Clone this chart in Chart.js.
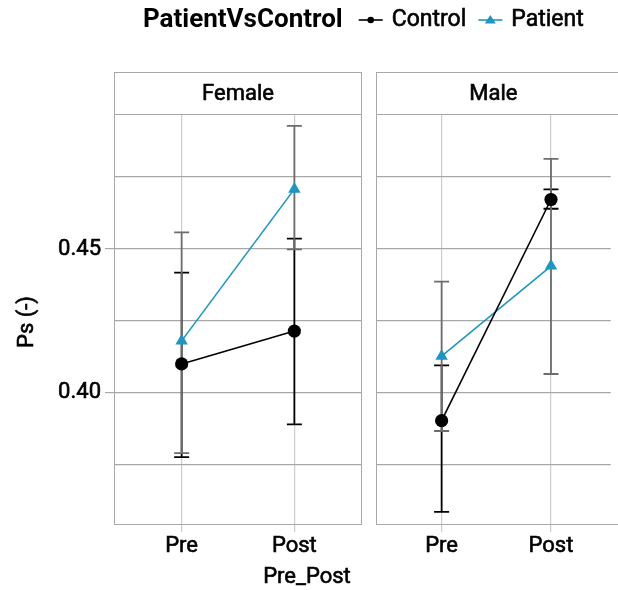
<!DOCTYPE html>
<html>
<head>
<meta charset="utf-8">
<script src="https://cdn.jsdelivr.net/npm/chart.js@4.4.1/dist/chart.umd.min.js"></script>
<style>
  body { margin: 0; background: #fff; }
  #wrap { position: relative; width: 618px; height: 590px; overflow: hidden; }
  #wrap canvas { position: absolute; top: 0; }
</style>
</head>
<body>
<div id="wrap">
  <canvas id="female" width="618" height="590" style="left:0"></canvas>
  <canvas id="male" width="250" height="590" style="left:368px"></canvas>
</div>
<script>
// dados (média e intervalo de cada grupo)
var categories = ["Pre", "Post"];
var panels = ["Female", "Male"];
var groups = ["Control", "Patient"];

var controlFemale = [0.4101, 0.4215];
var controlFemaleLow = [0.3777, 0.3891];
var controlFemaleHigh = [0.4418, 0.4536];
var patientFemale = [0.4181, 0.4708];
var patientFemaleLow = [0.3791, 0.4499];
var patientFemaleHigh = [0.4558, 0.4928];

var controlMale = [0.3904, 0.4672];
var controlMaleLow = [0.3587, 0.4640];
var controlMaleHigh = [0.4096, 0.4707];
var patientMale = [0.4128, 0.4441];
var patientMaleLow = [0.3868, 0.4066];
var patientMaleHigh = [0.4387, 0.4813];

var yBreaks = [0.40, 0.45];
var yLabels = ["0.40", "0.45"];
var yMinorBreaks = [0.375, 0.425, 0.475];

var FONT = "Roboto";
var BLUE = "#1f95c0";
var ERR_GRAY = "#6c6c6c";
var GRID_H = "#a8a8a8";
var GRID_V = "#cccccc";
var BORDER = "#a8a8a8";
var TEXT_STROKE = 0.6;

function toPoints(values) {
    return values.map(function (v, i) { return { x: i + 1, y: v }; });
}

// texto um pouco mais grosso (o Roboto Medium não está instalado)
function boldText(ctx, text, x, y) {
    ctx.lineWidth = TEXT_STROKE;
    ctx.strokeStyle = ctx.fillStyle;
    ctx.fillText(text, x, y);
    ctx.strokeText(text, x, y);
}

// barras de erro, borda do painel e faixa com o nome do painel
var facetPlugin = {
    id: 'facet',
    beforeDatasetsDraw: function (chart) {
        var ctx = chart.ctx;
        var yScale = chart.scales.y;
        chart.data.datasets.forEach(function (ds, di) {
            var meta = chart.getDatasetMeta(di);
            ctx.save();
            ctx.strokeStyle = ds.errColor;
            ctx.lineWidth = 1.8;
            meta.data.forEach(function (pt, i) {
                var x = pt.x;
                var y1 = yScale.getPixelForValue(ds.errLow[i]);
                var y2 = yScale.getPixelForValue(ds.errHigh[i]);
                ctx.beginPath();
                ctx.moveTo(x, y1); ctx.lineTo(x, y2);
                ctx.moveTo(x - 7.5, y1); ctx.lineTo(x + 7.5, y1);
                ctx.moveTo(x - 7.5, y2); ctx.lineTo(x + 7.5, y2);
                ctx.stroke();
            });
            ctx.restore();
        });
    },
    afterDraw: function (chart) {
        var opts = chart.options.plugins.facet;
        var ctx = chart.ctx;
        var a = chart.chartArea;
        var right = opts.openRight ? a.right + 10 : a.right;
        ctx.save();
        ctx.strokeStyle = BORDER;
        ctx.lineWidth = 1;
        ctx.strokeRect(Math.round(a.left) + 0.5, Math.round(a.top) + 0.5,
            Math.round(right - a.left) - 1, Math.round(a.bottom - a.top));
        // faixa
        var stripTop = 72.5;
        ctx.fillStyle = '#ffffff';
        ctx.fillRect(a.left, stripTop, right - a.left, a.top - stripTop);
        ctx.strokeRect(Math.round(a.left) + 0.5, stripTop,
            Math.round(right - a.left) - 1, Math.round(a.top) + 0.5 - stripTop);
        ctx.fillStyle = '#000';
        ctx.font = '22px ' + FONT;
        ctx.textAlign = 'center';
        ctx.textBaseline = 'middle';
        boldText(ctx, opts.label, (a.left + a.right) / 2, (stripTop + a.top) / 2 + 1);
        ctx.restore();
    }
};

// títulos dos eixos e legenda (só no primeiro gráfico)
var titlesPlugin = {
    id: 'titles',
    afterDraw: function (chart) {
        var ctx = chart.ctx;
        ctx.save();
        ctx.fillStyle = '#000';
        ctx.textBaseline = 'middle';
        ctx.textAlign = 'center';
        ctx.font = '22px ' + FONT;
        boldText(ctx, 'Pre_Post', 307, 577);
        ctx.save();
        ctx.translate(27, 322);
        ctx.rotate(-Math.PI / 2);
        boldText(ctx, 'Ps (-)', 0, 0);
        ctx.restore();

        // legenda
        var y = 20;
        var x = 143;
        ctx.textAlign = 'left';
        ctx.font = 'bold 26px ' + FONT;
        ctx.fillText('PatientVsControl', x, y);
        x += ctx.measureText('PatientVsControl').width + 16;
        ctx.font = '23px ' + FONT;
        var colors = ['#000000', BLUE];
        groups.forEach(function (g, i) {
            ctx.strokeStyle = colors[i];
            ctx.fillStyle = colors[i];
            ctx.lineWidth = 1.6;
            ctx.beginPath();
            ctx.moveTo(x, y); ctx.lineTo(x + 24, y);
            ctx.stroke();
            var cx = x + 12;
            ctx.beginPath();
            if (i === 0) {
                ctx.arc(cx, y, 3.3, 0, Math.PI * 2);
            } else {
                ctx.moveTo(cx, y - 5); ctx.lineTo(cx + 5.5, y + 3.5); ctx.lineTo(cx - 5.5, y + 3.5);
                ctx.closePath();
            }
            ctx.fill();
            x += 24 + 9;
            ctx.fillStyle = '#000';
            boldText(ctx, g, x, y);
            x += ctx.measureText(g).width + 12;
        });
        ctx.restore();
    }
};

function buildChart(canvasId, panel, control, cLow, cHigh, patient, pLow, pHigh, first) {
    var xMax = first ? 2.6 : 0.4 + 2.2 * 242 / 248;
    var tickFont = { family: FONT, size: 22 };
    return new Chart(document.getElementById(canvasId), {
        type: 'scatter',
        data: {
            datasets: [{
                label: groups[0],
                data: toPoints(control),
                errLow: cLow, errHigh: cHigh, errColor: '#000000',
                showLine: true,
                borderColor: '#000000',
                backgroundColor: '#000000',
                borderWidth: 1.6,
                pointStyle: 'circle',
                pointRadius: 6.6,
                pointBorderWidth: 0
            }, {
                label: groups[1],
                data: toPoints(patient),
                errLow: pLow, errHigh: pHigh, errColor: ERR_GRAY,
                showLine: true,
                borderColor: BLUE,
                backgroundColor: BLUE,
                borderWidth: 1.6,
                pointStyle: 'triangle',
                pointRadius: 7.2,
                pointBorderWidth: 0
            }]
        },
        options: {
            responsive: false,
            animation: false,
            layout: {
                padding: first ? { left: 0, top: 114, right: 256, bottom: 0 }
                               : { left: 8, top: 114, right: 0, bottom: 0 }
            },
            plugins: {
                legend: { display: false },
                tooltip: { enabled: false },
                facet: { label: panel, openRight: !first }
            },
            scales: {
                x: {
                    type: 'linear',
                    min: 0.4,
                    max: xMax,
                    afterBuildTicks: function (s) {
                        s.ticks = categories.map(function (c, i) { return { value: i + 1 }; });
                    },
                    afterFit: function (s) { s.height = 66; },
                    ticks: {
                        padding: 1,
                        color: '#000',
                        textStrokeColor: '#000',
                        textStrokeWidth: TEXT_STROKE,
                        font: tickFont,
                        callback: function (v) { return categories[v - 1]; }
                    },
                    grid: { color: GRID_V, lineWidth: 1.2, tickLength: 8, tickColor: GRID_V },
                    border: { display: false }
                },
                y: {
                    min: 0.3545,
                    max: 0.4969,
                    afterBuildTicks: function (s) {
                        s.ticks = yMinorBreaks.concat(yBreaks).sort().map(function (v) { return { value: v }; });
                    },
                    afterFit: function (s) { s.width = first ? 114 : 0; },
                    ticks: {
                        display: first,
                        padding: 4,
                        color: '#000',
                        textStrokeColor: '#000',
                        textStrokeWidth: TEXT_STROKE,
                        font: tickFont,
                        callback: function (v) {
                            var k = yBreaks.findIndex(function (b) { return Math.abs(b - v) < 1e-6; });
                            return k >= 0 ? yLabels[k] : '';
                        }
                    },
                    grid: {
                        color: GRID_H,
                        lineWidth: 1.2,
                        drawTicks: first,
                        tickLength: 9,
                        tickColor: function (c) {
                            var v = c.tick ? c.tick.value : 0;
                            return yBreaks.some(function (b) { return Math.abs(b - v) < 1e-6; }) ? BORDER : 'rgba(0,0,0,0)';
                        }
                    },
                    border: { display: false }
                }
            }
        },
        plugins: first ? [facetPlugin, titlesPlugin] : [facetPlugin]
    });
}

document.addEventListener('DOMContentLoaded', function () {
    buildChart('female', panels[0], controlFemale, controlFemaleLow, controlFemaleHigh,
        patientFemale, patientFemaleLow, patientFemaleHigh, true);
    buildChart('male', panels[1], controlMale, controlMaleLow, controlMaleHigh,
        patientMale, patientMaleLow, patientMaleHigh, false);
});
</script>
</body>
</html>
